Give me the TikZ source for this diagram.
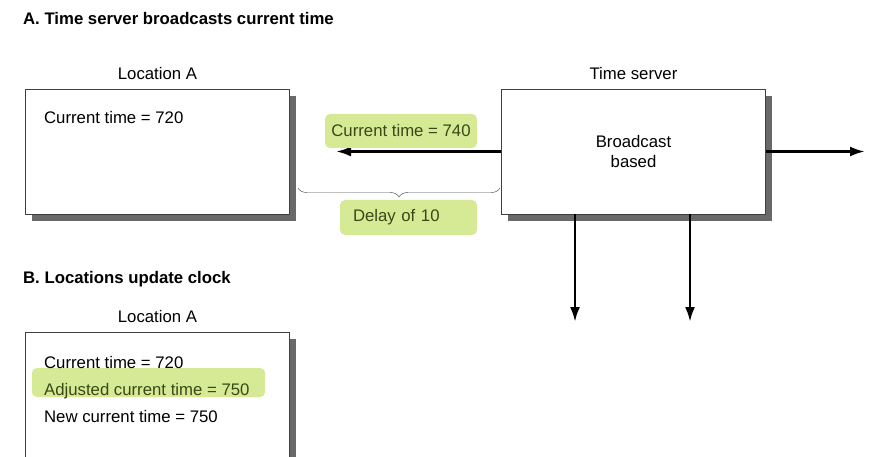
\documentclass[tikz,border=0pt]{standalone}
\usepackage{fontspec}
\setmainfont{Liberation Sans}
\usepackage{xcolor}
\usepackage{tikz}
\usetikzlibrary{arrows.meta,positioning,calc,shadows,decorations.pathreplacing}
\definecolor{hlgreen}{RGB}{214,234,150}
\definecolor{hltext}{RGB}{58,72,22}
\definecolor{shadowgray}{RGB}{105,105,105}

\begin{document}
\begin{tikzpicture}[x=0.03cm, y=-0.03cm,
  every node/.style={font=\fontsize{14.3}{16.3}\selectfont},
  site/.style={draw=black!75, fill=white, minimum width=7.92cm, minimum height=3.75cm,
    drop shadow={shadow xshift=0.2cm, shadow yshift=-0.2cm, fill=shadowgray, opacity=1}},
  hilite/.style={fill=hlgreen, rounded corners=0.15cm, text=hltext},
  bcast/.style={-{Latex[length=0.45cm,width=0.3cm]}, line width=0.08cm}]
  \clip (0,0) rectangle (872,457);
  % ---- A: time server broadcasts ----
  \node[anchor=base west] (titleA) at (19,25) {\bfseries A. Time server broadcasts current time};
  \node[site] (siteA) at (157.5,151.5) {};
  \node[site] (server) at (633.5,151.5) {};
  \node[above=0.15cm of siteA] (siteAlbl) {Location A};
  \node[above=0.15cm of server] (serverlbl) {Time server};
  \node[anchor=base west] (clockA) at (40,124) {Current time = 720};
  \node[align=center] (mode) at (server.center) {Broadcast\\based};
  % broadcast arrows
  \coordinate (msgend) at (336,153);
  \coordinate (outR) at (865,153);
  \coordinate (outD1) at (575,322);
  \coordinate (outD2) at (690,322);
  \draw[bcast] (server.west) -- (msgend |- server.west);
  \draw[bcast] (server.east) -- (outR |- server.east);
  \draw[bcast] (outD1 |- server.south) -- (outD1);
  \draw[bcast] (outD2 |- server.south) -- (outD2);
  \node[hilite, minimum width=4.56cm, minimum height=1.02cm] (msg) at (401,131) {Current time = 740};
  % delay brace
  \coordinate (braceL) at (298,188);
  \coordinate (braceR) at (500,188);
  \draw[decorate, decoration={brace, mirror, amplitude=0.27cm}, draw=black!70, thin] (braceL) -- (braceR);
  \node[hilite, text width=3.33cm, inner xsep=0.39cm, minimum height=1.05cm, align=left] (delay) at (408.5,217.5) {Delay of 10};
  % ---- B: locations update clock ----
  \node[anchor=base west] (titleB) at (19,283) {\bfseries B. Locations update clock};
  \node[site, minimum height=4.2cm] (siteB) at (157.5,402) {};
  \node[above=0.15cm of siteB] (siteBlbl) {Location A};
  \node[hilite, minimum width=7cm, minimum height=0.87cm] (adjustbg) at (148.5,382.5) {};
  \node[anchor=base west, text=hltext] (adjusted) at (40,395) {Adjusted current time = 750};
  \node[anchor=base west] (clockB) at (40,368) {Current time = 720};
  \node[anchor=base west] (newclock) at (40,422) {New current time = 750};
\end{tikzpicture}
\end{document}
